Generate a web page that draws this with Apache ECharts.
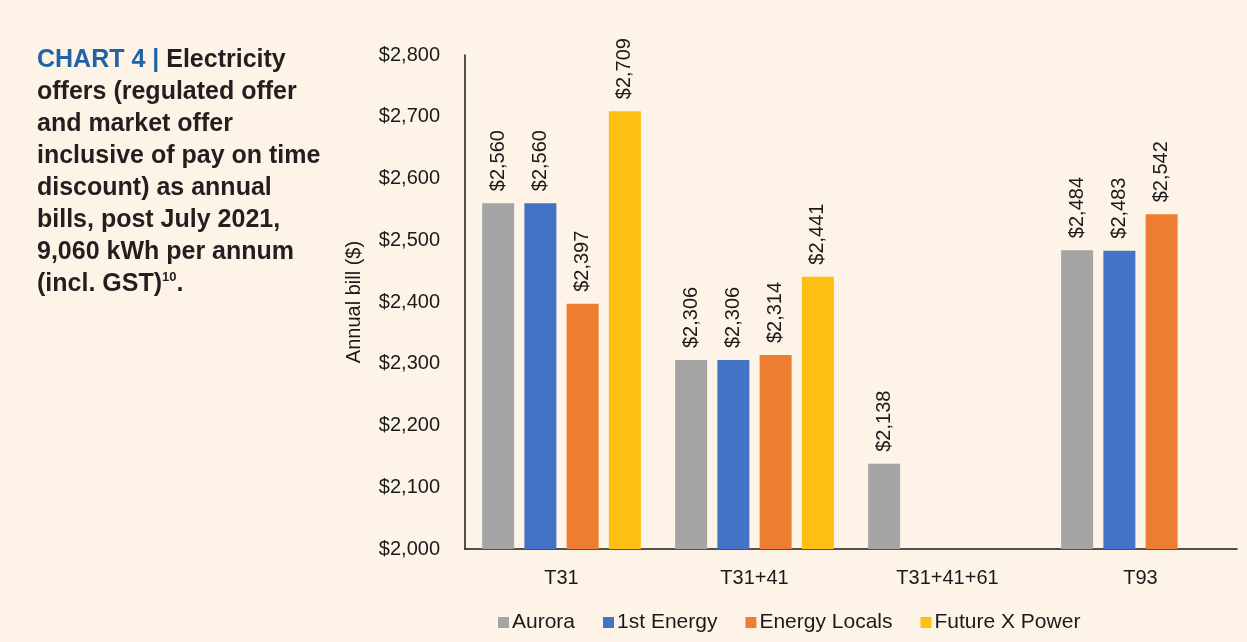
<!DOCTYPE html>
<html lang="en">
  <head>
    <meta charset="utf-8">
    <title>Chart 4</title>
    <script src="https://cdn.jsdelivr.net/npm/echarts@6/dist/echarts.min.js"></script>
    <style>
      html, body { margin: 0; padding: 0; background: #fdf3e7; }
      #chart { width: 1247px; height: 642px; }
    </style>
  </head>
  <body>
    <div id="chart"></div>
    <script>
      // data
      var tariffs = ['T31', 'T31+41', 'T31+41+61', 'T93'];
      var aurora = [2560, 2306, 2138, 2484];
      var firstEnergy = [2560, 2306, null, 2483];
      var energyLocals = [2397, 2314, null, 2542];
      var futureX = [2709, 2441, null, null];
      var retailers = ['Aurora', '1st Energy', 'Energy Locals', 'Future X Power'];
      var colors = ['#a5a5a5', '#4472c4', '#ed7d31', '#fcbf12'];

      var font = '"Liberation Sans", Arial, Helvetica, sans-serif';

      function money(v) {
        return '$' + v.toLocaleString('en-US');
      }

      function mkSeries(name, data, i) {
        return {
          name: name,
          type: 'bar',
          data: data,
          barWidth: 32,
          barGap: '32%',
          itemStyle: { color: colors[i] },
          label: {
            show: true,
            position: 'top',
            rotate: 90,
            align: 'left',
            verticalAlign: 'middle',
            distance: 12,
            color: '#1a1a1a',
            fontFamily: font,
            fontSize: 20,
            formatter: function (p) { return money(p.value); }
          }
        };
      }

      var chart = echarts.init(document.getElementById('chart'));
      chart.setOption({
        backgroundColor: '#fdf3e7',
        animation: false,
        textStyle: { fontFamily: font },
        title: {
          left: 32,
          top: 39,
          text: '{b|CHART 4 | }{k|Electricity}\n{k|offers (regulated offer}\n{k|and market offer}\n' +
            '{k|inclusive of pay on time}\n{k|discount) as annual}\n{k|bills, post July 2021,}\n' +
            '{k|9,060 kWh per annum}\n{k|(incl. GST)}{s|10}{k|.}',
          textStyle: {
            rich: {
              b: { fontSize: 25, fontWeight: 'bold', color: '#1f64a6', lineHeight: 32, fontFamily: font },
              k: { fontSize: 25, fontWeight: 'bold', color: '#231f20', lineHeight: 32, fontFamily: font },
              s: { fontSize: 13, fontWeight: 'bold', color: '#231f20', lineHeight: 32, fontFamily: font, padding: [0, 0, 14, 0] }
            }
          }
        },
        legend: {
          data: retailers,
          left: 493,
          top: 607,
          itemWidth: 11,
          itemHeight: 11,
          itemGap: 28,
          icon: 'rect',
          textStyle: { fontSize: 21, color: '#1a1a1a', fontFamily: font, padding: [0, 0, 0, -2] }
        },
        grid: { left: 465, right: 10, top: 55, bottom: 93, containLabel: false },
        xAxis: {
          type: 'category',
          data: tariffs,
          axisLine: { lineStyle: { color: '#1a1a1a', width: 1.5 } },
          axisTick: { show: false },
          axisLabel: { color: '#1a1a1a', fontSize: 20, margin: 19, fontFamily: font }
        },
        yAxis: {
          type: 'value',
          min: 2000,
          max: 2800,
          interval: 100,
          name: 'Annual bill ($)',
          nameLocation: 'middle',
          nameGap: 101,
          nameRotate: 90,
          nameTextStyle: { fontSize: 20, color: '#1a1a1a', fontFamily: font },
          axisLine: { show: true, lineStyle: { color: '#1a1a1a', width: 1.5 } },
          axisTick: { show: false },
          splitLine: { show: false },
          axisLabel: {
            color: '#1a1a1a',
            fontSize: 20,
            margin: 25,
            fontFamily: font,
            formatter: function (v) { return money(v); }
          }
        },
        series: [
          mkSeries(retailers[0], aurora, 0),
          mkSeries(retailers[1], firstEnergy, 1),
          mkSeries(retailers[2], energyLocals, 2),
          mkSeries(retailers[3], futureX, 3)
        ]
      });
    </script>
  </body>
</html>
